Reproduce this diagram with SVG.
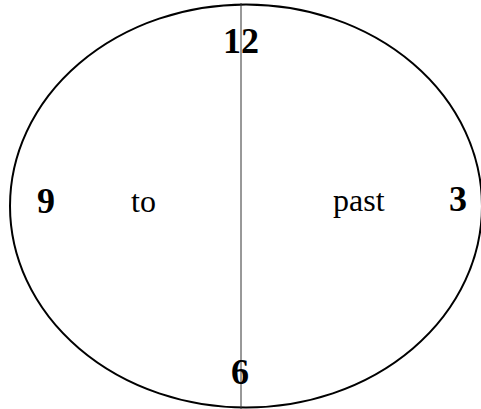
<svg xmlns="http://www.w3.org/2000/svg" width="481" height="409" viewBox="0 0 481 409">
<style>
.num{font-family:"Liberation Serif","Times New Roman",serif;font-weight:bold;font-size:36px;fill:#000}
.word{font-family:"Liberation Serif","Times New Roman",serif;font-size:32px;fill:#000}
.outline{fill:none;stroke:#000;stroke-width:2}
.axis{stroke:#333;stroke-width:1}
</style>
<rect width="481" height="409" fill="#fff"/>
<g id="clock"><ellipse class="outline" cx="246" cy="206" rx="236" ry="201.5"/></g>
<g id="connectors"><line class="axis" x1="241" y1="3" x2="241" y2="409"/></g>
<g id="n12"><text class="num" x="223" y="53">12</text></g>
<g id="n6"><text class="num" x="231" y="384">6</text></g>
<g id="n9"><text class="num" x="37" y="213">9</text></g>
<g id="n3"><text class="num" x="449" y="211">3</text></g>
<g id="to"><text class="word" x="131" y="212">to</text></g>
<g id="past"><text class="word" x="333" y="211">past</text></g>
</svg>
